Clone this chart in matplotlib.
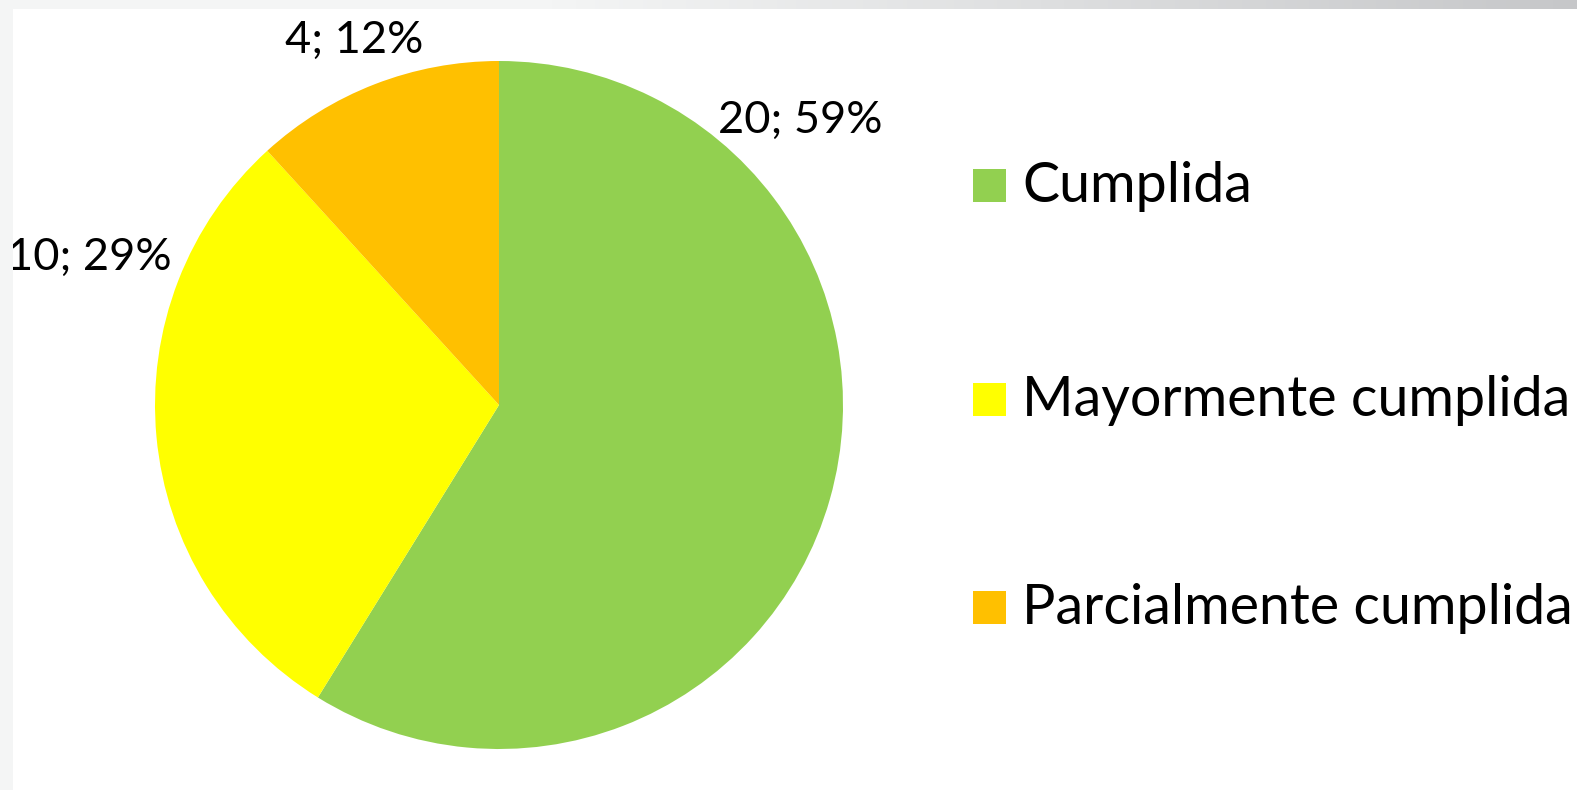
import numpy as np
import matplotlib.pyplot as plt
from matplotlib.patches import Rectangle

categories = ['Cumplida', 'Mayormente cumplida', 'Parcialmente cumplida']
counts = [20, 10, 4]
colors = ['#92D050', '#FFFF00', '#FFC000']

plt.rcParams['font.family'] = ['Lato', 'DejaVu Sans']

W, H = 1577, 790
fig = plt.figure(figsize=(W / 100, H / 100), dpi=100)
fig.patch.set_facecolor('white')

# grey frame of the screenshot: left strip and gradient top strip
fig.patches.append(Rectangle((0, 0), 13 / W, 1, transform=fig.transFigure,
                             facecolor='#f4f5f5', edgecolor='none', zorder=0))
grad = fig.add_axes([0, 1 - 9 / H, 1, 9 / H])
g = np.clip((np.linspace(0, 1, 400) - 0.35) / 0.65, 0, 1)
c0 = np.array([0xf4, 0xf5, 0xf5]) / 255
c1 = np.array([0xc6, 0xc7, 0xc9]) / 255
row = c0[None, :] * (1 - g[:, None]) + c1[None, :] * g[:, None]
grad.imshow(row[None, :, :], aspect='auto', extent=[0, 1, 0, 1])
grad.set_axis_off()

# pie
cx, cy, r = 499, 405, 344
ax = fig.add_axes([(cx - r) / W, (H - cy - r) / H, 2 * r / W, 2 * r / H])
ax.pie(counts, colors=colors, startangle=90, counterclock=False, radius=1,
       wedgeprops=dict(linewidth=0))
ax.set_xlim(-1, 1)
ax.set_ylim(-1, 1)
ax.set_aspect('equal')
ax.set_axis_off()

total = sum(counts)
label_pos = [(0.875, 0.826), (-1.19, 0.43), (-0.42, 1.06)]
for n, (x, y) in zip(counts, label_pos):
    ax.text(x, y, f'{n}; {round(100 * n / total)}%', ha='center', va='center',
            fontsize=32.5, color='black', clip_on=False)

# legend
leg_y = [186, 400, 608]
for name, col, y in zip(categories, colors, leg_y):
    fig.patches.append(Rectangle((973 / W, (H - y - 16) / H), 33 / W, 33 / H,
                                 transform=fig.transFigure, facecolor=col,
                                 edgecolor='none'))
    fig.text(1022 / W, (H - y) / H, name, ha='left', va='center',
             fontsize=40, color='black')

fig.savefig('out.png', dpi=100)
